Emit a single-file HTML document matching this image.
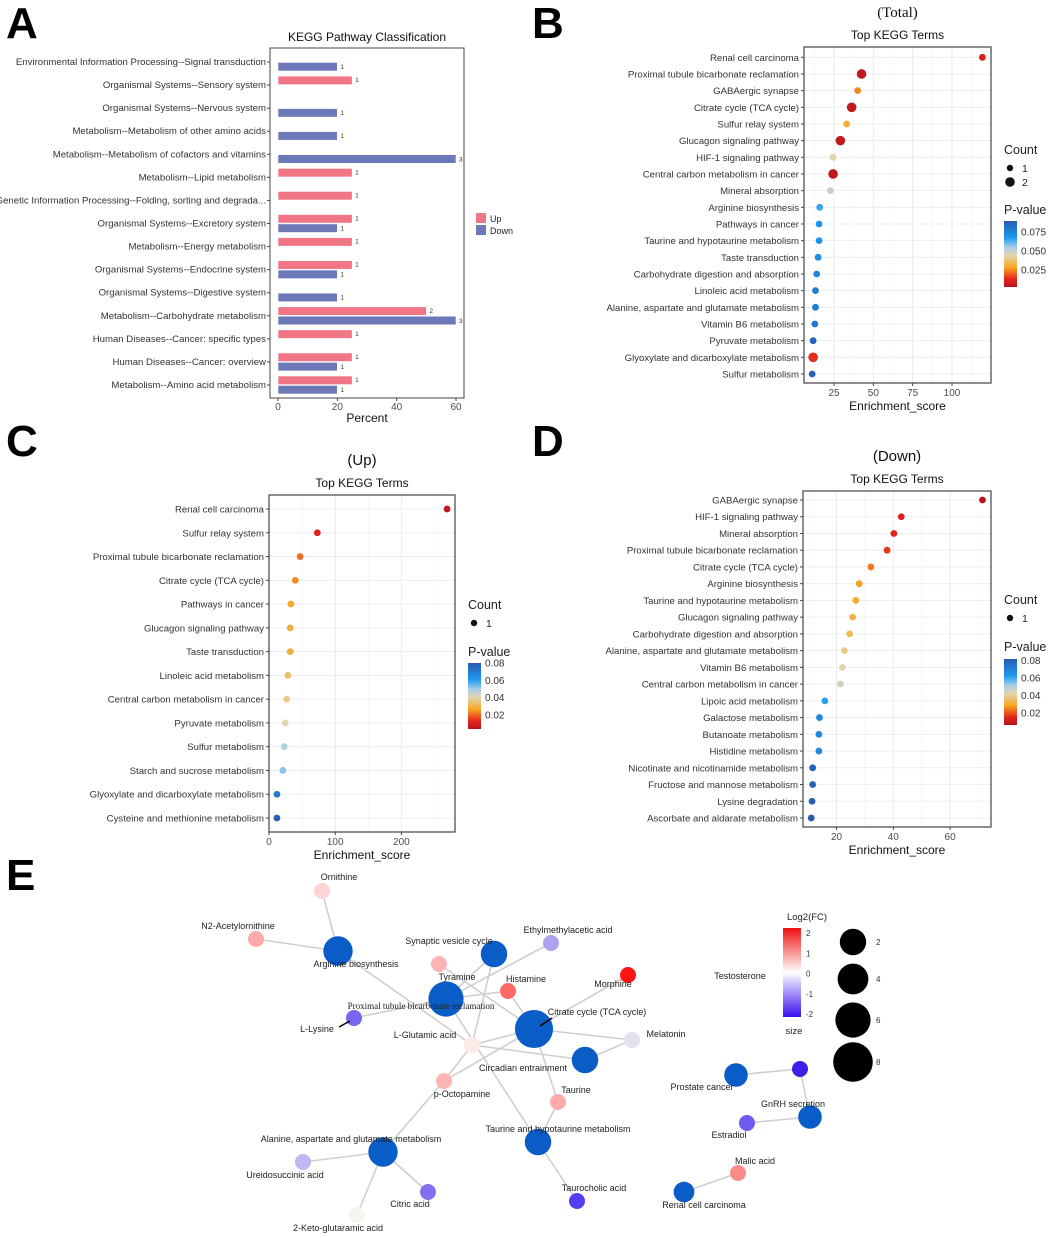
<!DOCTYPE html>
<html><head><meta charset="utf-8">
<style>
html,body{margin:0;padding:0;background:#fff;}
svg{display:block;font-family:"Liberation Sans",Arial,sans-serif;}
.lbl{font-size:9.6px;fill:#333;}
.tk{font-size:10px;fill:#4d4d4d;}
.ttl{font-size:12px;fill:#111;}
.pl{font-size:44px;font-weight:bold;fill:#000;}
.net{font-size:9px;fill:#222;}
</style></head>
<body>
<svg id="fig" width="1059" height="1238" viewBox="0 0 1059 1238">
<defs>
<linearGradient id="pgrad" x1="0" y1="1" x2="0" y2="0">
<stop offset="0" stop-color="#b5151b"/><stop offset="0.12" stop-color="#e3241c"/><stop offset="0.3" stop-color="#f8a824"/><stop offset="0.48" stop-color="#e2d4b0"/><stop offset="0.6" stop-color="#a8cfe6"/><stop offset="0.75" stop-color="#1b9af0"/><stop offset="1" stop-color="#2a5bb0"/>
</linearGradient>
<linearGradient id="fcgrad" x1="0" y1="1" x2="0" y2="0">
<stop offset="0" stop-color="#3a10f0"/><stop offset="0.5" stop-color="#ffffff"/><stop offset="1" stop-color="#f01010"/>
</linearGradient>
</defs>
<text class="pl" x="6" y="38">A</text>
<text class="pl" x="532" y="38">B</text>
<text class="pl" x="6" y="456">C</text>
<text class="pl" x="532" y="456">D</text>
<text class="pl" x="6" y="890">E</text>
<g id="pa"></g>
<g id="pb"></g>
<g id="pc"></g>
<g id="pd"></g>
<g id="pe"></g>
</svg>
<script>
// ---------- Panel A data ----------
const aCats = ["Environmental Information Processing--Signal transduction","Organismal Systems--Sensory system","Organismal Systems--Nervous system","Metabolism--Metabolism of other amino acids","Metabolism--Metabolism of cofactors and vitamins","Metabolism--Lipid metabolism","Genetic Information Processing--Folding, sorting and degrada...","Organismal Systems--Excretory system","Metabolism--Energy metabolism","Organismal Systems--Endocrine system","Organismal Systems--Digestive system","Metabolism--Carbohydrate metabolism","Human Diseases--Cancer: specific types","Human Diseases--Cancer: overview","Metabolism--Amino acid metabolism"];
const aUp = [0,25,0,0,0,25,25,25,25,25,0,50,25,25,25];
const aUpN = [0,1,0,0,0,1,1,1,1,1,0,2,1,1,1];
const aDown = [20,0,20,20,60,0,0,20,0,20,20,60,0,20,20];
const aDownN = [1,0,1,1,3,0,0,1,0,1,1,3,0,1,1];
const aTicks = [0,20,40,60];

// ---------- Panel B data ----------
const bTerms = ["Renal cell carcinoma","Proximal tubule bicarbonate reclamation","GABAergic synapse","Citrate cycle (TCA cycle)","Sulfur relay system","Glucagon signaling pathway","HIF-1 signaling pathway","Central carbon metabolism in cancer","Mineral absorption","Arginine biosynthesis","Pathways in cancer","Taurine and hypotaurine metabolism","Taste transduction","Carbohydrate digestion and absorption","Linoleic acid metabolism","Alanine, aspartate and glutamate metabolism","Vitamin B6 metabolism","Pyruvate metabolism","Glyoxylate and dicarboxylate metabolism","Sulfur metabolism"];
const bScore = [119.3,42.5,40,36.2,33,29,24.4,24.4,22.6,15.9,15.5,15.5,14.9,14,13.2,13.2,12.8,11.7,11.7,11.1];
const bCount = [1,2,1,2,1,2,1,2,1,1,1,1,1,1,1,1,1,1,2,1];
const bP = [0.01,0.005,0.025,0.005,0.03,0.005,0.045,0.005,0.05,0.065,0.07,0.07,0.072,0.075,0.078,0.078,0.08,0.087,0.014,0.088];
const bTicks = [25,50,75,100];
const bPTicks = ["0.025","0.050","0.075"];

// ---------- Panel C data ----------
const cTerms = ["Renal cell carcinoma","Sulfur relay system","Proximal tubule bicarbonate reclamation","Citrate cycle (TCA cycle)","Pathways in cancer","Glucagon signaling pathway","Taste transduction","Linoleic acid metabolism","Central carbon metabolism in cancer","Pyruvate metabolism","Sulfur metabolism","Starch and sucrose metabolism","Glyoxylate and dicarboxylate metabolism","Cysteine and methionine metabolism"];
const cScore = [269,73,47,39.7,33,32,32,28.6,26.6,24.6,23,21,12,12];
const cCount = [1,1,1,1,1,1,1,1,1,1,1,1,1,1];
const cP = [0.006,0.012,0.021,0.024,0.028,0.029,0.029,0.034,0.037,0.04,0.048,0.052,0.072,0.078];
const cTicks = [0,100,200];
const cPTicks = ["0.02","0.04","0.06","0.08"];

// ---------- Panel D data ----------
const dTerms = ["GABAergic synapse","HIF-1 signaling pathway","Mineral absorption","Proximal tubule bicarbonate reclamation","Citrate cycle (TCA cycle)","Arginine biosynthesis","Taurine and hypotaurine metabolism","Glucagon signaling pathway","Carbohydrate digestion and absorption","Alanine, aspartate and glutamate metabolism","Vitamin B6 metabolism","Central carbon metabolism in cancer","Lipoic acid metabolism","Galactose metabolism","Butanoate metabolism","Histidine metabolism","Nicotinate and nicotinamide metabolism","Fructose and mannose metabolism","Lysine degradation","Ascorbate and aldarate metabolism"];
const dScore = [71.4,42.8,40.2,37.8,32.1,28,26.8,25.7,24.6,22.8,22.1,21.4,15.9,14,13.8,13.8,11.6,11.6,11.4,11.1];
const dCount = [1,1,1,1,1,1,1,1,1,1,1,1,1,1,1,1,1,1,1,1];
const dP = [0.006,0.013,0.015,0.017,0.024,0.028,0.03,0.032,0.034,0.039,0.042,0.045,0.062,0.068,0.068,0.068,0.08,0.08,0.081,0.083];
const dTicks = [20,40,60];
const dPTicks = ["0.02","0.04","0.06","0.08"];

// ---------- Panel E data ----------
const eNodes = ["Ornithine","N2-Acetylornithine","Arginine biosynthesis","Synaptic vesicle cycle","Ethylmethylacetic acid","Tyramine","Histamine","Morphine","Proximal tubule bicarbonate reclamation","L-Lysine","Citrate cycle (TCA cycle)","Melatonin","L-Glutamic acid","Circadian entrainment","p-Octopamine","Taurine","Taurine and hypotaurine metabolism","Alanine, aspartate and glutamate metabolism","Ureidosuccinic acid","Citric acid","2-Keto-glutaramic acid","Taurocholic acid","Renal cell carcinoma","Malic acid","Prostate cancer","Testosterone","GnRH secretion","Estradiol"];
const eX = [322,256,338,494,551,439,508,628,446,354,534,632,472,585,444,558,538,383,303,428,357,577,684,738,736,800,810,747];
const eY = [891,939,951,954,943,964,991,975,999,1018,1029,1040,1045,1060,1081,1102,1142,1152,1162,1192,1215,1201,1192,1173,1075,1069,1117,1123];
const eSize = [0,0,6,5,0,0,0,0,8,0,9,0,0,5,0,0,5,6,0,0,0,0,3,0,4,0,4,0];
const eFC = [0.4,0.8,0,0,-0.9,0.7,1.4,2.2,0,-1.5,0,-0.3,0.2,0,0.7,0.8,0,0,-0.7,-1.4,-0.1,-1.9,0,1.1,0,-1.9,0,-1.6];
const eEdges = [[0,2],[1,2],[2,12],[8,4],[8,6],[8,9],[8,16],[3,12],[3,8],[5,10],[6,10],[7,10],[10,11],[10,12],[10,14],[10,15],[12,13],[13,11],[12,14],[14,17],[15,16],[16,21],[17,18],[17,19],[17,20],[24,25],[25,26],[26,27],[22,23]];
const eLabelDX = [17,-18,18,-45,17,18,18,-15,-25,-37,63,34,-47,-62,18,18,20,-32,-18,-18,-19,17,20,17,-34,-60,-17,-18];
const eLabelDY = [-14,-13,13,-13,-13,13,-12,9,7,11,-17,-6,-10,8,13,-12,-13,-13,13,12,13,-13,13,-12,12,-93,-13,12];
const eSizeLegend = [2,4,6,8];
const eFCTicks = [2,1,0,-1,-2];

const NS = "http://www.w3.org/2000/svg";
function mk(parent, tag, attrs, txt){
  const el = document.createElementNS(NS, tag);
  for (const k in attrs) el.setAttribute(k, attrs[k]);
  if (txt !== undefined) el.textContent = txt;
  parent.appendChild(el);
  return el;
}
function lin(d0,d1,r0,r1){ return v => r0 + (v-d0)/(d1-d0)*(r1-r0); }
const STOPS = [[0,[181,21,27]],[0.12,[227,36,28]],[0.3,[248,168,36]],[0.48,[226,212,176]],[0.6,[168,207,230]],[0.75,[27,154,240]],[1,[42,91,176]]];
function pColor(p,pmin,pmax){
  let t = Math.max(0,Math.min(1,(p-pmin)/(pmax-pmin)));
  for (let i=1;i<STOPS.length;i++){
    if (t<=STOPS[i][0]){
      const a=STOPS[i-1], b=STOPS[i], f=(t-a[0])/(b[0]-a[0]);
      const c=a[1].map((v,j)=>Math.round(v+(b[1][j]-v)*f));
      return "rgb("+c.join(",")+")";
    }
  }
  return "rgb(42,91,176)";
}

// ---------- Panel A ----------
(function(){
  const g = document.getElementById("pa");
  const L=270,R=464,T=48,B=398;
  const x = lin(0,60,278,456);
  const y = i => 62 + i*(385-62)/(aCats.length-1);
  const t = mk(g,"text",{x:367,y:41,"text-anchor":"middle",class:"ttl","font-size":"11"},"KEGG Pathway Classification");
   
  const box = mk(g,"rect",{x:L,y:T,width:R-L,height:B-T,fill:"#fff",stroke:"#444","stroke-width":1});
   
  aTicks.forEach(v=>{
    mk(g,"line",{x1:x(v),x2:x(v),y1:B,y2:B+3,stroke:"#444"});
    const tl = mk(g,"text",{x:x(v),y:B+12,"text-anchor":"middle",class:"tk","font-size":"9.5"},v);
     
  });
  const xt = mk(g,"text",{x:367,y:422,"text-anchor":"middle",class:"ttl"},"Percent");
   
  aCats.forEach((c,i)=>{
    const cy=y(i);
    mk(g,"line",{x1:L-3,x2:L,y1:cy,y2:cy,stroke:"#444"});
    const lb = mk(g,"text",{x:L-4,y:cy+3,"text-anchor":"end",class:"lbl","font-size":"8.6"},c);
     
    if (aUp[i]>0){
      const r = mk(g,"rect",{x:x(0),y:cy-9,width:x(aUp[i])-x(0),height:8.6,fill:"#f07686",stroke:"#fff","stroke-width":0.6});
       
      mk(g,"text",{x:x(aUp[i])+3,y:cy-3,"font-size":"6.5",fill:"#333"},aUpN[i]);
    }
    if (aDown[i]>0){
      const r = mk(g,"rect",{x:x(0),y:cy+0.4,width:x(aDown[i])-x(0),height:8.6,fill:"#6d78b8",stroke:"#fff","stroke-width":0.6});
       
      mk(g,"text",{x:x(aDown[i])+3,y:cy+7,"font-size":"6.5",fill:"#333"},aDownN[i]);
    }
  });
  const l1 = mk(g,"rect",{x:476,y:213,width:10,height:10,fill:"#f07686"});
   
  const l2 = mk(g,"rect",{x:476,y:225,width:10,height:10,fill:"#6d78b8"});
   
  mk(g,"text",{x:490,y:222,"font-size":"9",fill:"#222"},"Up");
  mk(g,"text",{x:490,y:234,"font-size":"9",fill:"#222"},"Down");
})();

// ---------- Dot plots ----------
function dotPlot(gid, terms, score, count, pv, ticks, ptickLabels, cfg){
  const g = document.getElementById(gid);
  const x = lin(cfg.d0,cfg.d1,cfg.L,cfg.R);
  const y = i => cfg.y0 + i*(cfg.y1-cfg.y0)/(terms.length-1);
  const cx = (cfg.L+cfg.R)/2;
  const t1 = mk(g,"text",{x:cx,y:cfg.T-30,"text-anchor":"middle","font-size":"15",fill:"#111","font-family":cfg.serif?"Liberation Serif,serif":"Liberation Sans,sans-serif"},cfg.sub);
   
  const t2 = mk(g,"text",{x:cx,y:cfg.T-8,"text-anchor":"middle",class:"ttl","font-size":"12.5"},"Top KEGG Terms");
   
  const box = mk(g,"rect",{x:cfg.L,y:cfg.T,width:cfg.R-cfg.L,height:cfg.B-cfg.T,fill:"#fff"});
   
  // minor grid
  for (let k=0;k<ticks.length+1;k++){
    const step = ticks[1]-ticks[0];
    const v = ticks[0] - step/2 + k*step;
    if (x(v)>cfg.L && x(v)<cfg.R) mk(g,"line",{x1:x(v),x2:x(v),y1:cfg.T,y2:cfg.B,stroke:"#f3f3f3","stroke-width":0.6});
  }
  ticks.forEach(v=>{
    mk(g,"line",{x1:x(v),x2:x(v),y1:cfg.T,y2:cfg.B,stroke:"#e6e6e6","stroke-width":0.8});
    mk(g,"line",{x1:x(v),x2:x(v),y1:cfg.B,y2:cfg.B+3,stroke:"#444"});
    const tl = mk(g,"text",{x:x(v),y:cfg.B+13,"text-anchor":"middle",class:"tk","font-size":"10.5"},v);
     
  });
  terms.forEach((term,i)=>{
    const cy=y(i);
    mk(g,"line",{x1:cfg.L,x2:cfg.R,y1:cy,y2:cy,stroke:"#ebebeb","stroke-width":0.8});
    mk(g,"line",{x1:cfg.L-3,x2:cfg.L,y1:cy,y2:cy,stroke:"#444"});
    const lb = mk(g,"text",{x:cfg.L-5,y:cy+3.5,"text-anchor":"end",class:"lbl","font-size":cfg.fs},term);
     
  });
  terms.forEach((term,i)=>{
    const c = mk(g,"circle",{cx:x(score[i]),cy:y(i),r:count[i]===2?4.8:3.4,fill:pColor(pv[i],cfg.pmin,cfg.pmax)});
     
  });
  mk(g,"rect",{x:cfg.L,y:cfg.T,width:cfg.R-cfg.L,height:cfg.B-cfg.T,fill:"none",stroke:"#444","stroke-width":1.2});
  const xt = mk(g,"text",{x:cx,y:cfg.B+27,"text-anchor":"middle",class:"ttl","font-size":"13"},"Enrichment_score");
   
  // legend
  const lx = cfg.lx;
  const ct = mk(g,"text",{x:lx,y:cfg.ly,"font-size":"12.5",fill:"#222"},"Count");
   
  const counts = cfg.counts;
  counts.forEach((c,k)=>{
    const yy = cfg.ly+14+k*14;
    const d = mk(g,"circle",{cx:lx+6,cy:yy,r:c===2?4.8:3.2,fill:"#111"});
     
    mk(g,"text",{x:lx+18,y:yy+4,"font-size":"10.5",fill:"#222"},c);
  });
  const pt = mk(g,"text",{x:lx,y:cfg.py,"font-size":"12.5",fill:"#222"},"P-value");
   
  const gb = mk(g,"rect",{x:lx,y:cfg.gy0,width:13,height:cfg.gy1-cfg.gy0,fill:"url(#pgrad)"});
   
  ptickLabels.forEach(s=>{
    const v = parseFloat(s);
    const yy = cfg.gy1 - (v-cfg.pmin)/(cfg.pmax-cfg.pmin)*(cfg.gy1-cfg.gy0);
    mk(g,"text",{x:lx+17,y:yy+3.5,"font-size":"10",fill:"#333"},s);
  });
}
dotPlot("pb",bTerms,bScore,bCount,bP,bTicks,bPTicks,{L:804,R:991,T:47,B:383,d0:5.9,d1:124.8,y0:57.3,y1:374,sub:"(Total)",serif:true,fs:"10",pmin:0.0026,pmax:0.0895,lx:1004,ly:154,counts:[1,2],py:214,gy0:221,gy1:287});
dotPlot("pc",cTerms,cScore,cCount,cP,cTicks,cPTicks,{L:269,R:455,T:495,B:832,d0:0,d1:281,y0:509,y1:818,sub:"(Up)",serif:false,fs:"10.2",pmin:0.004,pmax:0.08,lx:468,ly:609,counts:[1],py:656,gy0:663,gy1:729});
dotPlot("pd",dTerms,dScore,dCount,dP,dTicks,dPTicks,{L:803,R:991,T:491,B:827,d0:8.2,d1:74.4,y0:500,y1:818,sub:"(Down)",serif:false,fs:"10",pmin:0.006,pmax:0.082,lx:1004,ly:604,counts:[1],py:651,gy0:659,gy1:725});

// ---------- Panel E ----------
(function(){
  const g = document.getElementById("pe");
  function fcColor(v){
    const t = Math.max(-2.2,Math.min(2.2,v))/2.2;
    if (t>=0){ return "rgb(255,"+Math.round(255-235*t)+","+Math.round(255-235*t)+")"; }
    const s=-t; return "rgb("+Math.round(255-200*s)+","+Math.round(255-225*s)+",240)";
  }
  const rad = s => s>0 ? 6+s*1.45 : 8;
  eEdges.forEach(e=>{
    const l = mk(g,"line",{x1:eX[e[0]],y1:eY[e[0]],x2:eX[e[1]],y2:eY[e[1]],stroke:"#cfcfcf","stroke-width":1.6});
     
  });
  eNodes.forEach((n,i)=>{
    if (n==="Testosterone") return;
    const c = mk(g,"circle",{cx:eX[i],cy:eY[i],r:rad(eSize[i]),fill:eSize[i]>0?"#0a5cc6":fcColor(eFC[i])});
     
  });
  // testosterone node drawn as compound
  const ti = eNodes.indexOf("Testosterone");
  const tn = mk(g,"circle",{cx:eX[ti],cy:eY[ti],r:8,fill:"#4020e8"});
   
  mk(g,"line",{x1:339,y1:1027,x2:350,y2:1021,stroke:"#000","stroke-width":1.5});
  mk(g,"line",{x1:540,y1:1026,x2:552,y2:1018,stroke:"#000","stroke-width":1.5});
  eNodes.forEach((n,i)=>{
    const serif = n.startsWith("Proximal");
    const t = mk(g,"text",{x:eX[i]+eLabelDX[i],y:eY[i]+eLabelDY[i]+3,"text-anchor":"middle",class:"net","font-size":serif?"9.5":"9","font-family":serif?"Liberation Serif,serif":"Liberation Sans,sans-serif"},n);
     
  });
  // legend
  const lt = mk(g,"text",{x:807,y:920,"text-anchor":"middle","font-size":"9.5",fill:"#222"},"Log2(FC)");
   
  const gb = mk(g,"rect",{x:783,y:928,width:18,height:89,fill:"url(#fcgrad)"});
   
  eFCTicks.forEach(v=>{
    const yy = lin(2,-2,933,1014)(v);
    mk(g,"text",{x:806,y:yy+3,"font-size":"8",fill:"#333"},v);
  });
  const st = mk(g,"text",{x:794,y:1034,"text-anchor":"middle","font-size":"9.5",fill:"#222"},"size");
   
  eSizeLegend.forEach((s,k)=>{
    const yy = [942,979,1020,1062][k];
    const c = mk(g,"circle",{cx:853,cy:yy,r:11+s*1.1,fill:"#000"});
     
    mk(g,"text",{x:876,y:yy+3,"font-size":"8",fill:"#333"},s);
  });
})();
</script>
</body></html>
